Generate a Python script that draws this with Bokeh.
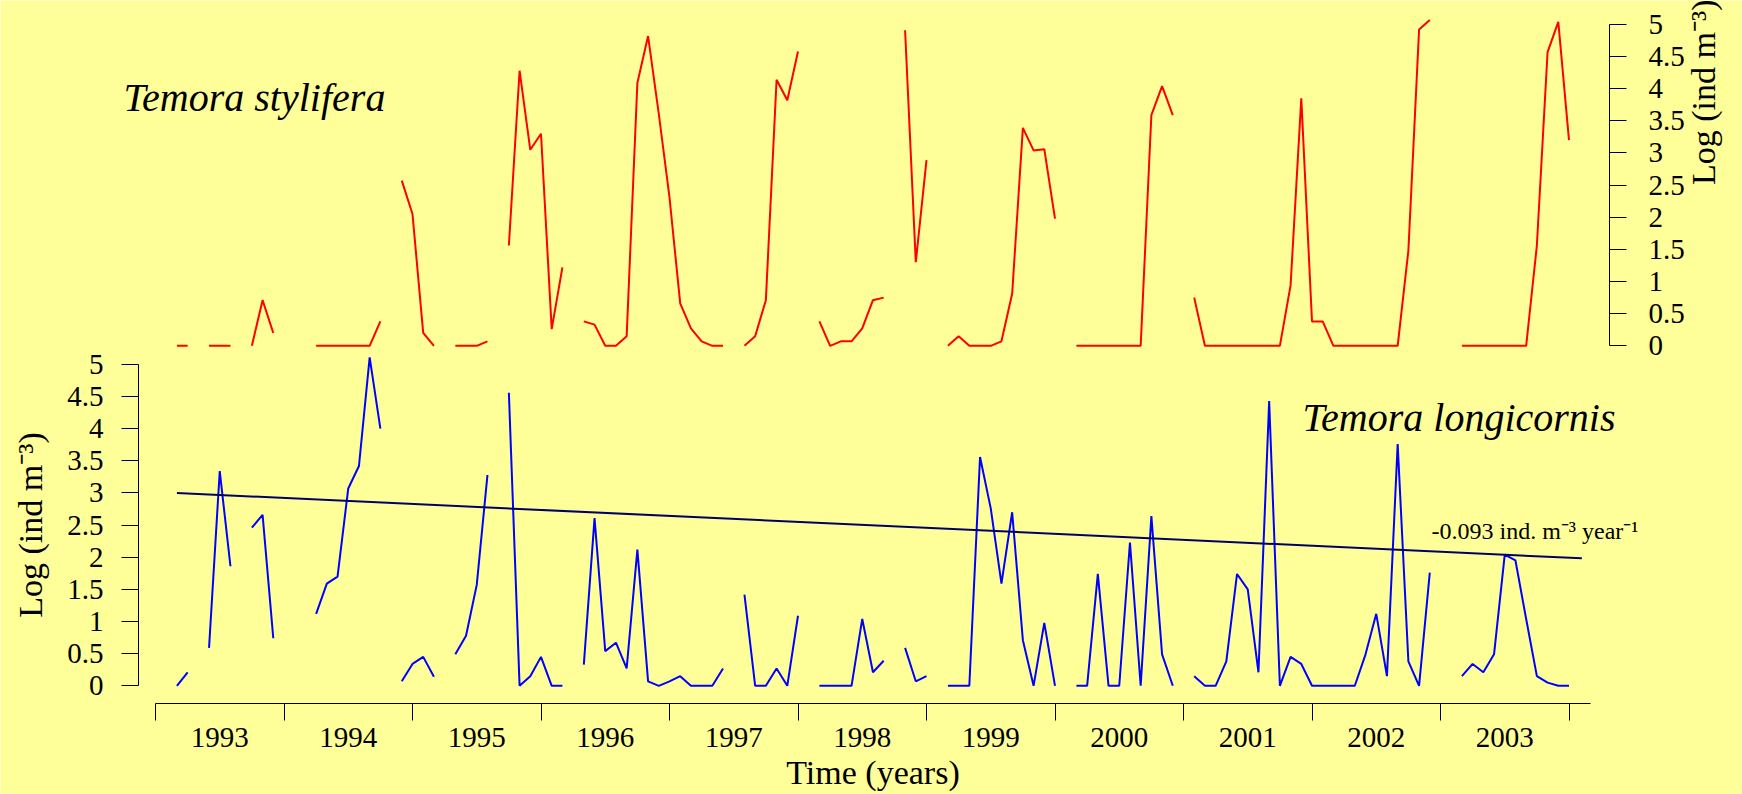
import math
from bokeh.plotting import figure
from bokeh.models import ColumnDataSource, Range1d, LinearAxis, FixedTicker, Label
from bokeh.embed import file_html
from bokeh.resources import INLINE

nan = float("nan")

# ---------------- data ----------------
years = list(range(1993, 2004))
year_labels = [str(y) for y in years]
months = list(range(1, 13))

# Temora longicornis, log (ind m-3), monthly Jan..Dec of each year
longicornis = [
    nan, 0.00, 0.21, nan, 0.59, 3.34, 1.86, nan, 2.46, 2.66, 0.74, nan,   # 1993
    nan, nan, 1.12, 1.59, 1.70, 3.07, 3.42, 5.11, 4.00, nan, 0.07, 0.34,  # 1994
    0.45, 0.14, nan, 0.49, 0.78, 1.57, 3.28, nan, 4.56, 0.00, 0.15, 0.45, # 1995
    0.00, 0.00, nan, 0.33, 2.61, 0.54, 0.67, 0.27, 2.12, 0.07, 0.00, 0.07, # 1996
    0.15, 0.00, 0.00, 0.00, 0.27, nan, 1.42, 0.00, 0.00, 0.27, 0.00, 1.09, # 1997
    nan, 0.00, 0.00, 0.00, 0.00, 1.04, 0.21, 0.39, nan, 0.59, 0.07, 0.15,  # 1998
    nan, 0.00, 0.00, 0.00, 3.56, 2.76, 1.59, 2.70, 0.71, 0.00, 0.98, 0.00, # 1999
    nan, 0.00, 0.00, 1.74, 0.00, 0.00, 2.23, 0.00, 2.64, 0.49, 0.00, nan,  # 2000
    0.15, 0.00, 0.00, 0.38, 1.74, 1.50, 0.21, 4.43, 0.00, 0.45, 0.34, 0.00, # 2001
    0.00, 0.00, 0.00, 0.00, 0.49, 1.12, 0.15, 3.76, 0.38, 0.00, 1.76, nan,  # 2002
    nan, 0.15, 0.34, 0.21, 0.49, 2.04, 1.95, 1.04, 0.15, 0.05, 0.00, 0.00,  # 2003
]

# Temora stylifera, log (ind m-3), monthly Jan..Dec of each year
stylifera = [
    nan, 0.00, 0.00, nan, 0.00, 0.00, 0.00, nan, 0.00, 0.71, 0.20, nan,   # 1993
    nan, nan, 0.00, 0.00, 0.00, 0.00, 0.00, 0.00, 0.38, nan, 2.57, 2.05,  # 1994
    0.20, 0.00, nan, 0.00, 0.00, 0.00, 0.07, nan, 1.56, 4.28, 3.05, 3.30, # 1995
    0.26, 1.22, nan, 0.38, 0.33, 0.00, 0.00, 0.15, 4.09, 4.82, 3.61, 2.31, # 1996
    0.66, 0.27, 0.07, 0.00, 0.00, nan, 0.00, 0.15, 0.71, 4.14, 3.82, 4.58, # 1997
    nan, 0.38, 0.00, 0.07, 0.07, 0.27, 0.71, 0.75, nan, 4.91, 1.30, 2.89,  # 1998
    nan, 0.00, 0.15, 0.00, 0.00, 0.00, 0.07, 0.81, 3.39, 3.04, 3.06, 1.98, # 1999
    nan, 0.00, 0.00, 0.00, 0.00, 0.00, 0.00, 0.00, 3.59, 4.04, 3.59, nan,  # 2000
    0.75, 0.00, 0.00, 0.00, 0.00, 0.00, 0.00, 0.00, 0.00, 0.94, 3.85, 0.38, # 2001
    0.38, 0.00, 0.00, 0.00, 0.00, 0.00, 0.00, 0.00, 1.48, 4.92, 5.07, nan,  # 2002
    nan, 0.00, 0.00, 0.00, 0.00, 0.00, 0.00, 0.00, 1.56, 4.57, 5.04, 3.20, # 2003
]

# linear trend of T. longicornis
trend_slope = -0.093          # ind. m-3 per year
trend_start_value = 3.00      # value at first sample
trend_end = 2004.1            # end of drawn trend line

y_ticks = [0, 0.5, 1, 1.5, 2, 2.5, 3, 3.5, 4, 4.5, 5]
y_tick_labels = ["0", "0.5", "1", "1.5", "2", "2.5", "3", "3.5", "4", "4.5", "5"]

# ---------------- layout (page pixels -> data) ----------------
W, H = 1742, 794
PAGE_X0, PAGE_Y0 = 0, 0
YEAR_PX = 128.5          # px per year
X_1993 = 155.0           # page x of 1993.0
UNIT_PX = 64.27          # px per log unit
BLUE_ZERO = 685.3        # page y of T. longicornis 0
RED_ZERO = 345.3         # page y of T. stylifera 0


def year_at(px):
    return 1993 + (px - X_1993) / YEAR_PX


def blue_at(py):
    return (BLUE_ZERO - py) / UNIT_PX


def red_at(py):
    return (RED_ZERO - py) / UNIT_PX


# ---------------- derived ----------------
x = [y + m / 12.0 for y in years for m in months]
src = ColumnDataSource(dict(x=x, longi=longicornis, styli=stylifera))

first_x = next(xx for xx, v in zip(x, longicornis) if not math.isnan(v))
trend_x = [first_x, trend_end]
trend_y = [trend_start_value + trend_slope * (xx - first_x) for xx in trend_x]

BG = "#FFFF99"
FONT = "Liberation Serif"

p = figure(width=W, height=H, output_backend="svg", toolbar_location=None, title=None,
           x_range=Range1d(year_at(PAGE_X0), year_at(PAGE_X0 + W)),
           y_range=Range1d(blue_at(PAGE_Y0 + H), blue_at(PAGE_Y0)),
           x_axis_location=None, y_axis_location=None)
p.extra_y_ranges = {"red": Range1d(red_at(PAGE_Y0 + H), red_at(PAGE_Y0))}
p.min_border_left = 0
p.min_border_right = 0
p.min_border_top = 0
p.min_border_bottom = 0
p.background_fill_color = BG
p.border_fill_color = BG
p.outline_line_color = None
p.grid.visible = False


def style(ax):
    ax.axis_line_color = "black"
    ax.axis_line_width = 1
    ax.major_tick_line_color = "black"
    ax.major_tick_line_width = 1
    ax.minor_tick_line_color = None
    ax.major_label_text_font = FONT
    ax.major_label_text_font_size = "29px"
    ax.major_label_text_color = "black"
    ax.axis_label_text_font = FONT
    ax.axis_label_text_font_size = "34px"
    ax.axis_label_text_font_style = "normal"
    ax.axis_label_text_color = "black"


y_over = dict(zip(y_ticks, y_tick_labels))

left = LinearAxis(ticker=FixedTicker(ticks=y_ticks), bounds=(0, 5),
                  fixed_location=year_at(138),
                  major_tick_out=17, major_tick_in=0, major_label_standoff=18,
                  axis_label="Log (ind m\u207b\u00b3)", axis_label_standoff=15,
                  major_label_overrides=y_over)
style(left)
p.add_layout(left, "left")

right = LinearAxis(y_range_name="red", ticker=FixedTicker(ticks=y_ticks), bounds=(0, 5),
                   fixed_location=year_at(1609),
                   major_tick_out=17, major_tick_in=0, major_label_standoff=22,
                   axis_label="Log (ind m\u207b\u00b3)", axis_label_standoff=16,
                   major_label_overrides=y_over)
style(right)
right.axis_label_orientation = math.pi / 2
p.add_layout(right, "right")

mid_years = [y + 0.5 for y in years]
bottom = LinearAxis(ticker=FixedTicker(ticks=mid_years, minor_ticks=years + [years[-1] + 1]),
                    bounds=(years[0], year_at(1590)),
                    fixed_location=blue_at(703.3),
                    major_tick_out=0, major_tick_in=0, minor_tick_out=17, minor_tick_in=0,
                    major_label_standoff=7, axis_label="Time (years)", axis_label_standoff=4,
                    major_label_overrides=dict(zip(mid_years, year_labels)))
style(bottom)
bottom.major_tick_line_color = None
bottom.minor_tick_line_color = "black"
bottom.minor_tick_line_width = 1
p.add_layout(bottom, "below")

p.line("x", "styli", source=src, color="#FF0000", line_width=2, y_range_name="red")
p.line("x", "longi", source=src, color="#0000FF", line_width=2)
p.line(trend_x, trend_y, color="#000066", line_width=2)

p.add_layout(Label(x=year_at(123), y=red_at(96.7), y_range_name="red", text="Temora stylifera",
                   text_font=FONT, text_font_style="italic", text_font_size="40px",
                   text_color="black", text_align="left", text_baseline="alphabetic"))
p.add_layout(Label(x=year_at(1302), y=blue_at(416.8), text="Temora longicornis",
                   text_font=FONT, text_font_style="italic", text_font_size="40px",
                   text_color="black", text_align="left", text_baseline="alphabetic"))
p.add_layout(Label(x=year_at(1431), y=blue_at(530),
                   text=f"{trend_slope:.3f} ind. m\u207b\u00b3 year\u207b\u00b9",
                   text_font=FONT, text_font_size="24px",
                   text_color="black", text_align="left", text_baseline="alphabetic"))

open("out.html", "w").write(file_html(p, INLINE))
